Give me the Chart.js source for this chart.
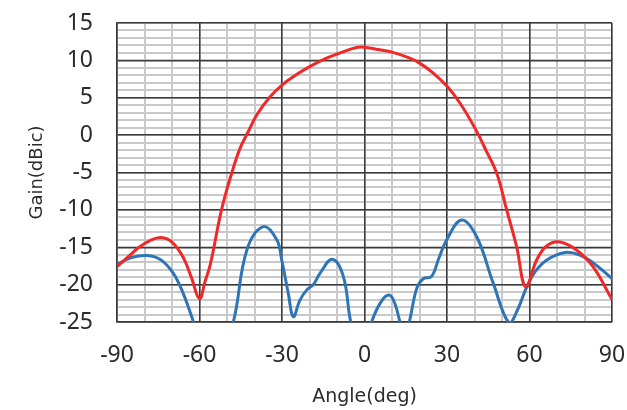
<!DOCTYPE html>
<html>
<head>
<meta charset="utf-8">
<script src="https://cdn.jsdelivr.net/npm/chart.js@4.4.1/dist/chart.umd.min.js"></script>
<style>
  html, body { margin: 0; padding: 0; background: #fff; }
  #wrap { width: 627px; height: 410px; }
</style>
</head>
<body>
<div id="wrap"><canvas id="gain"></canvas></div>
<script>
// red pattern (co-pol), angle in deg / gain in dBic
const redAngle = [-90, -86, -82, -78, -74, -70, -66, -63, -60, -58, -56, -52, -48.3, -45.3, -42.3, -39.2, -34.4, -30, -24.7, -19.8, -13.8, -10, -4.2, -1,
  4.2, 10, 16.5, 20.2, 25, 30.1, 34.7, 40.2, 44.4, 48.1, 51.7, 55.3, 58.6, 62.6, 66.3, 71.1, 77.2, 83.1, 90];
const redGain = [-17.6, -16.3, -15.0, -14.1, -13.7, -14.3, -16.3, -19.0, -21.9, -19.6, -17.2, -10.0, -5.1, -1.8, 0.45, 2.7, 5.1, 6.7, 8.1, 9.2, 10.3, 10.85, 11.6, 11.8,
  11.5, 11.1, 10.3, 9.6, 8.3, 6.5, 4.3, 0.9, -2.2, -5.1, -10.0, -14.9, -20.3, -16.7, -14.8, -14.3, -15.4, -17.6, -22.0];

// blue pattern (cross-pol), dips below -25 are cut by the axis
const blueAngle = [-90, -85, -79, -74, -69.5, -65.9, -62.2, -55, -47.7, -42.8, -36.8, -31.9, -30.1, -27.7, -25.9, -23.5, -21, -18.6, -16.2,
  -11.7, -7.7, -5, -1, 2.6, 6, 9, 11, 12.9, 14.6, 16.3, 19, 21.4, 24.4, 27, 29.9, 35.3, 40.8, 46.8, 52.5, 55.5, 59, 62, 66.3, 72.9, 78, 83.2, 90];
const blueGain = [-17.3, -16.4, -16.1, -16.7, -18.5, -21.2, -25, -33, -25, -15.4, -12.25, -14.0, -16.7, -21.2, -24.3, -22.1, -20.7, -20.0, -18.5,
  -16.6, -18.9, -25, -30, -25, -22.3, -21.4, -22.5, -25, -27, -25, -20.5, -19.2, -18.9, -16.5, -14.0, -11.35, -13.6, -19.8, -25.1, -23.5, -20.3, -18.3, -16.7, -15.7, -16.0, -17.1, -19.2];

const xTicks = [-90, 90, 30];   // min, max, step
const yTicks = [-25, 15, 5];

const textColor = '#2b2b2b';
const majorColor = '#3a3a3a';
const minorColor = '#c9c9cc';

const toPts = (xs, ys) => xs.map((a, i) => ({ x: a, y: ys[i] }));

// keep the scales from pushing the plot area in for their end labels
const noPad = s => { s.paddingTop = 0; s.paddingBottom = 0; s.paddingLeft = 0; s.paddingRight = 0; };

new Chart(document.getElementById('gain'), {
  type: 'line',
  data: {
    datasets: [
      {
        data: toPts(redAngle, redGain),
        borderColor: 'rgb(240,40,40)',
        borderWidth: 3,
        pointRadius: 0,
        tension: 0.4
      },
      {
        data: toPts(blueAngle, blueGain),
        borderColor: 'rgb(46,117,182)',
        borderWidth: 3,
        pointRadius: 0,
        tension: 0.4
      }
    ]
  },
  options: {
    responsive: true,
    maintainAspectRatio: false,
    animation: false,
    layout: { padding: { top: 23, right: 15, left: 0, bottom: 0 } },
    plugins: { legend: { display: false }, tooltip: { enabled: false } },
    scales: {
      // minor grids first so the dark major lines sit on top
      xMinor: {
        axis: 'x', type: 'linear', position: 'bottom',
        min: xTicks[0], max: xTicks[1],
        ticks: { display: false, stepSize: 10 },
        grid: { color: minorColor, lineWidth: 2, drawTicks: false },
        border: { display: false },
        afterFit: s => { noPad(s); s.height = 0; }
      },
      yMinor: {
        axis: 'y', type: 'linear', position: 'left',
        min: yTicks[0], max: yTicks[1],
        ticks: { display: false, stepSize: 1 },
        grid: { color: minorColor, lineWidth: 2, drawTicks: false },
        border: { display: false },
        afterFit: s => { noPad(s); s.width = 0; }
      },
      x: {
        type: 'linear', position: 'bottom',
        min: xTicks[0], max: xTicks[1],
        ticks: {
          stepSize: xTicks[2], padding: 20, color: textColor,
          font: { family: 'Noto Sans', size: 23 }
        },
        grid: { color: majorColor, lineWidth: 1.5, drawTicks: false },
        border: { color: majorColor, width: 1.5 },
        title: {
          display: true, text: 'Angle(deg)', color: textColor,
          font: { family: 'DejaVu Sans', size: 19 },
          padding: { top: 0, bottom: 2 }
        },
        afterFit: s => { noPad(s); s.height = 88; }
      },
      y: {
        type: 'linear', position: 'left',
        min: yTicks[0], max: yTicks[1],
        ticks: {
          stepSize: yTicks[2], padding: 24, color: textColor,
          font: { family: 'Noto Sans', size: 23 }
        },
        grid: { color: majorColor, lineWidth: 1.5, drawTicks: false },
        border: { color: majorColor, width: 1.5 },
        title: {
          display: true, text: 'Gain(dBic)', color: textColor,
          font: { family: 'DejaVu Sans', size: 18 },
          padding: { top: 27, bottom: 0 }
        },
        afterFit: s => { noPad(s); s.width = 117; }
      }
    }
  }
});
</script>
</body>
</html>
